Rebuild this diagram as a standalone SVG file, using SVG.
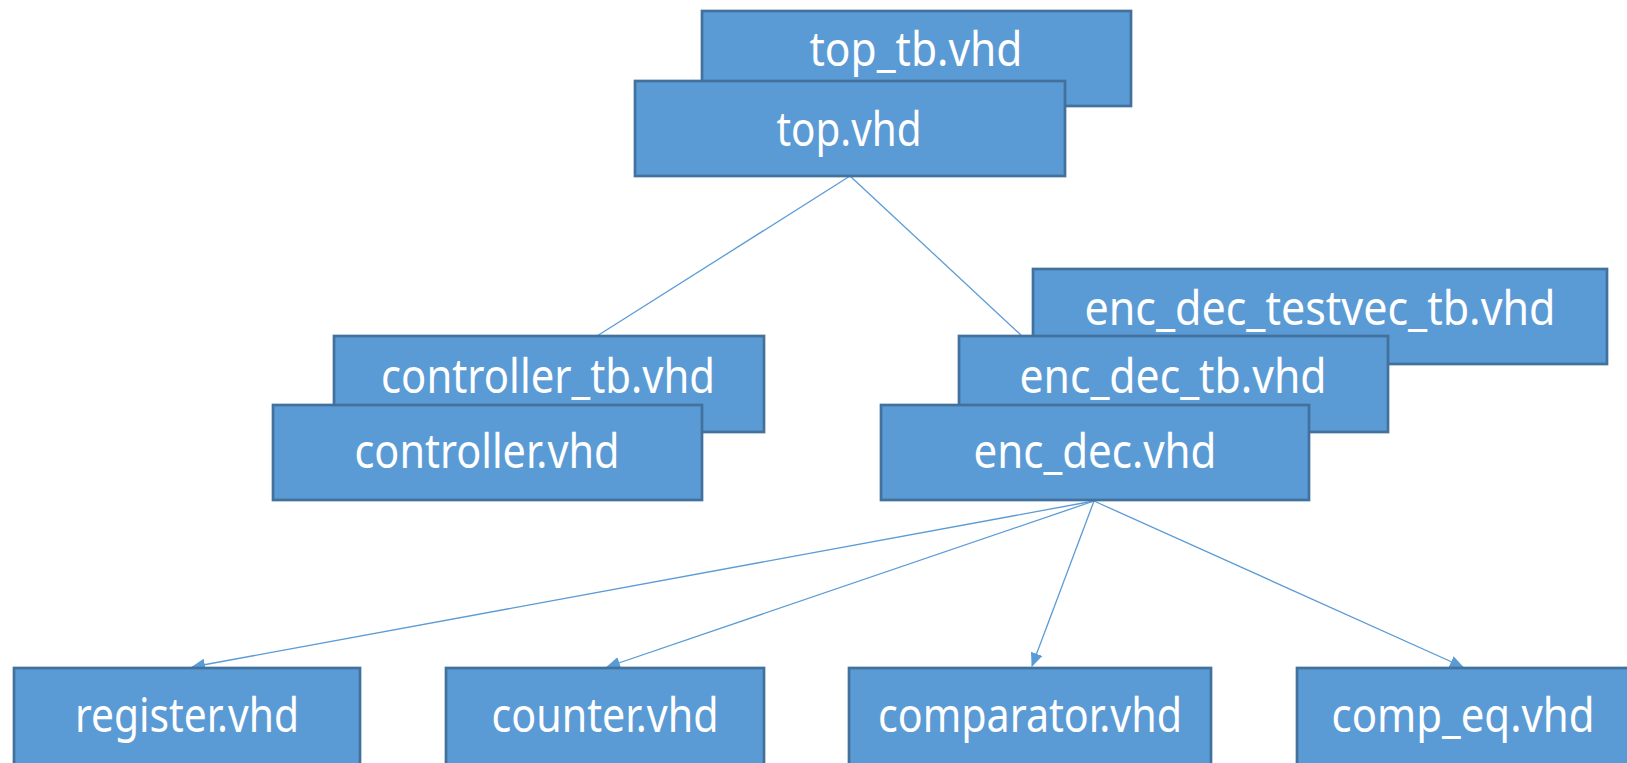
<svg xmlns="http://www.w3.org/2000/svg" width="1627" height="763" viewBox="0 0 1627 763">
<style>
.box{fill:#5B9BD5;stroke:#41719C;stroke-width:2.7}
.lbl{fill:#FFFFFF;font-family:"Noto Sans","Open Sans",sans-serif;font-size:47px;text-anchor:middle}
.con{stroke:#5B9BD5;stroke-width:1.3;fill:none}
</style>
<defs>
<marker id="arr" markerWidth="14" markerHeight="12" refX="13" refY="6" orient="auto" markerUnits="userSpaceOnUse">
<path d="M0,0 L14,6 L0,12 Z" fill="#5B9BD5"/>
</marker>
</defs>
<rect width="1627" height="763" fill="#FFFFFF"/>
<g id="connectors">
<line class="con" x1="850" y1="176" x2="597" y2="336"/>
<line class="con" x1="850" y1="176" x2="1022" y2="336"/>
<line class="con" x1="1094" y1="501" x2="192" y2="667" marker-end="url(#arr)"/>
<line class="con" x1="1094" y1="501" x2="607" y2="667" marker-end="url(#arr)"/>
<line class="con" x1="1094" y1="501" x2="1032" y2="666" marker-end="url(#arr)"/>
<line class="con" x1="1094" y1="501" x2="1463" y2="667" marker-end="url(#arr)"/>
</g>
<g id="top_tb"><rect class="box" x="702" y="11" width="429" height="95"/><text class="lbl" x="916" y="66" textLength="213" lengthAdjust="spacingAndGlyphs">top_tb.vhd</text></g>
<g id="top"><rect class="box" x="635" y="81" width="430" height="95"/><text class="lbl" x="849" y="146" textLength="145" lengthAdjust="spacingAndGlyphs">top.vhd</text></g>
<g id="enc_dec_testvec_tb"><rect class="box" x="1033" y="269" width="574" height="95"/><text class="lbl" x="1320" y="325" textLength="471" lengthAdjust="spacingAndGlyphs">enc_dec_testvec_tb.vhd</text></g>
<g id="controller_tb"><rect class="box" x="334" y="336" width="430" height="96"/><text class="lbl" x="548" y="393" textLength="334" lengthAdjust="spacingAndGlyphs">controller_tb.vhd</text></g>
<g id="controller"><rect class="box" x="273" y="405" width="429" height="95"/><text class="lbl" x="487" y="468" textLength="265" lengthAdjust="spacingAndGlyphs">controller.vhd</text></g>
<g id="enc_dec_tb"><rect class="box" x="959" y="336" width="429" height="96"/><text class="lbl" x="1173" y="393" textLength="307" lengthAdjust="spacingAndGlyphs">enc_dec_tb.vhd</text></g>
<g id="enc_dec"><rect class="box" x="881" y="405" width="428" height="95"/><text class="lbl" x="1095" y="468" textLength="243" lengthAdjust="spacingAndGlyphs">enc_dec.vhd</text></g>
<g id="register"><rect class="box" x="14" y="668" width="346" height="110"/><text class="lbl" x="187" y="732" textLength="224" lengthAdjust="spacingAndGlyphs">register.vhd</text></g>
<g id="counter"><rect class="box" x="446" y="668" width="318" height="110"/><text class="lbl" x="605" y="732" textLength="227" lengthAdjust="spacingAndGlyphs">counter.vhd</text></g>
<g id="comparator"><rect class="box" x="849" y="668" width="362" height="110"/><text class="lbl" x="1030" y="732" textLength="304" lengthAdjust="spacingAndGlyphs">comparator.vhd</text></g>
<g id="comp_eq"><rect class="box" x="1297" y="668" width="340" height="110"/><text class="lbl" x="1463" y="732" textLength="263" lengthAdjust="spacingAndGlyphs">comp_eq.vhd</text></g>
</svg>
